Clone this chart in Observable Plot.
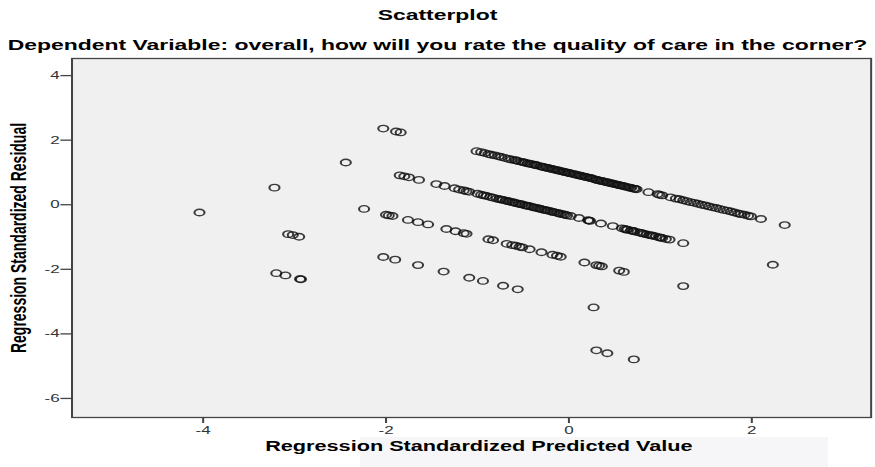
<!DOCTYPE html>
<html>
<head>
<meta charset="utf-8">
<script src="https://cdn.jsdelivr.net/npm/d3@7"></script>
<script src="https://cdn.jsdelivr.net/npm/@observablehq/plot@0.6"></script>
<style>
  html, body { margin: 0; padding: 0; background: #ffffff; width: 875px; height: 467px; overflow: hidden; }
  #wm { position: absolute; left: 360px; top: 437px; width: 468px; height: 30px; background: #f6f6f9; }
  #stretch { position: absolute; left: 0; top: 0; width: 565px; height: 467px;
             transform: scaleX(1.5487); transform-origin: 0 0;
             font-family: "Liberation Sans", Arial, sans-serif; color: #000; }
  .ttl { position: absolute; left: 0; width: 565px; text-align: center; font-weight: bold;
         font-size: 14.8px; line-height: 20px; white-space: nowrap; }
  #t1 { top: 5px; }
  #t2 { top: 35px; }
  #chart { position: absolute; left: 0; top: 57px; }
</style>
</head>
<body>
<div id="wm"></div>
<div id="stretch">
  <div class="ttl" id="t1"></div>
  <div class="ttl" id="t2"></div>
  <div id="chart"></div>
</div>
<script>
const titleText = "Scatterplot";
const subtitleText = "Dependent Variable: overall, how will you rate the quality of care in the corner?";
const xLabel = "Regression Standardized Predicted Value";
const yLabel = "Regression Standardized Residual";
const xTicks = [-4, -2, 0, 2];
const yTicks = [4, 2, 0, -2, -4, -6];

// Band 1 (top line of residuals)
const band1Pred = [-2.03, -1.89, -1.84, -1.01, -0.96, -0.92, -0.88, -0.85, -0.81, -0.77, -0.74, -0.70, -0.66, -0.63, -0.59, -0.55, -0.52, -0.48, -0.45, -0.41, -0.38, -0.35, -0.31, -0.28, -0.25, -0.22, -0.19, -0.16, -0.13, -0.10, -0.07, -0.04, -0.01, 0.02, 0.05, 0.08, 0.11, 0.14, 0.17, 0.20, 0.23, 0.26, 0.29, 0.32, 0.35, 0.38, 0.41, 0.44, 0.47, 0.50, 0.53, 0.56, 0.59, 0.62, 0.65, 0.68, 0.71, 0.74, 0.87, 0.97, 0.99, 1.02, 1.11, 1.17, 1.21, 1.25, 1.29, 1.33, 1.37, 1.41, 1.45, 1.49, 1.53, 1.57, 1.61, 1.65, 1.69, 1.73, 1.77, 1.81, 1.85, 1.88, 1.92, 1.96, 1.99, 2.10, 2.36,
  -0.575, -0.50, -0.43, -0.365, -0.295, -0.235, -0.175, -0.115, -0.055, 0.005, 0.065, 0.125, 0.185, 0.245, 0.305, 0.365, 0.425, 0.485, 0.545, 0.605, 0.665, 0.725];
const band1Resid = [2.36, 2.27, 2.24, 1.66, 1.63, 1.60, 1.57, 1.55, 1.53, 1.50, 1.48, 1.45, 1.42, 1.40, 1.38, 1.35, 1.33, 1.30, 1.28, 1.26, 1.24, 1.22, 1.19, 1.17, 1.15, 1.13, 1.11, 1.09, 1.07, 1.05, 1.03, 1.01, 0.99, 0.97, 0.95, 0.93, 0.91, 0.89, 0.87, 0.85, 0.83, 0.81, 0.78, 0.76, 0.74, 0.72, 0.70, 0.68, 0.66, 0.64, 0.62, 0.60, 0.58, 0.56, 0.54, 0.52, 0.50, 0.48, 0.39, 0.33, 0.31, 0.29, 0.23, 0.19, 0.17, 0.14, 0.11, 0.08, 0.06, 0.03, 0.00, -0.02, -0.05, -0.08, -0.10, -0.13, -0.16, -0.18, -0.21, -0.24, -0.27, -0.29, -0.31, -0.34, -0.36, -0.44, -0.63,
  1.37, 1.32, 1.27, 1.23, 1.18, 1.14, 1.10, 1.06, 1.02, 0.98, 0.94, 0.90, 0.86, 0.82, 0.77, 0.73, 0.69, 0.65, 0.61, 0.57, 0.53, 0.49];

// Band 2
const band2Pred = [-2.44, -1.85, -1.80, -1.75, -1.64, -1.45, -1.36, -1.25, -1.20, -1.15, -1.12, -1.09, -1.00, -0.96, -0.93, -0.90, -0.86, -0.83, -0.79, -0.76, -0.72, -0.69, -0.65, -0.62, -0.58, -0.55, -0.51, -0.48, -0.44, -0.41, -0.37, -0.34, -0.30, -0.27, -0.23, -0.20, -0.16, -0.13, -0.09, -0.06, -0.02, 0.02, 0.11, 0.21, 0.23, 0.35, 0.48, 0.58, 0.61, 0.64, 0.68, 0.71, 0.75, 0.78, 0.82, 0.85, 0.88, 0.92, 0.95, 0.99, 1.02, 1.06, 1.10, 1.25, 2.23,
  -0.74, -0.67, -0.60, -0.53, -0.46, -0.39, -0.32, -0.25, -0.18, -0.11, -0.04, 0.22, 0.63, 0.70, 0.80, 0.90, 1.00];
const band2Resid = [1.31, 0.91, 0.88, 0.85, 0.77, 0.64, 0.58, 0.51, 0.47, 0.44, 0.42, 0.40, 0.34, 0.31, 0.29, 0.27, 0.24, 0.22, 0.19, 0.17, 0.15, 0.13, 0.10, 0.08, 0.05, 0.03, 0.01, -0.02, -0.04, -0.06, -0.09, -0.11, -0.14, -0.16, -0.18, -0.20, -0.23, -0.25, -0.28, -0.30, -0.33, -0.35, -0.41, -0.48, -0.50, -0.58, -0.66, -0.73, -0.75, -0.77, -0.80, -0.82, -0.85, -0.87, -0.90, -0.92, -0.94, -0.96, -0.98, -1.01, -1.03, -1.06, -1.08, -1.19, -1.86,
  0.16, 0.11, 0.07, 0.02, -0.03, -0.08, -0.12, -0.17, -0.22, -0.27, -0.31, -0.49, -0.77, -0.81, -0.88, -0.95, -1.02];

// Band 3
const band3Pred = [-3.22, -2.24, -2.00, -1.97, -1.93, -1.76, -1.65, -1.54, -1.34, -1.24, -1.15, -1.12, -0.88, -0.83, -0.68, -0.62, -0.58, -0.54, -0.51, -0.43, -0.30, -0.18, -0.13, -0.09, 0.17, 0.30, 0.33, 0.36, 0.55, 0.60, 1.25];
const band3Resid = [0.53, -0.13, -0.31, -0.33, -0.35, -0.47, -0.54, -0.61, -0.75, -0.82, -0.88, -0.90, -1.07, -1.10, -1.21, -1.25, -1.27, -1.30, -1.32, -1.38, -1.47, -1.55, -1.58, -1.61, -1.79, -1.87, -1.89, -1.91, -2.04, -2.08, -2.52];

// Band 4
const band4Pred = [-4.04, -3.07, -3.02, -2.95, -2.03, -1.90, -1.65, -1.37, -1.09, -0.94, -0.72, -0.56, 0.27];
const band4Resid = [-0.24, -0.91, -0.94, -0.99, -1.62, -1.70, -1.87, -2.07, -2.26, -2.36, -2.51, -2.62, -3.18];

// Band 5 (lowest)
const band5Pred = [-3.20, -3.10, -2.94, -2.93, 0.30, 0.42, 0.71];
const band5Resid = [-2.12, -2.19, -2.30, -2.31, -4.51, -4.60, -4.79];

const bands = [
  [band1Pred, band1Resid], [band2Pred, band2Resid], [band3Pred, band3Resid],
  [band4Pred, band4Resid], [band5Pred, band5Resid]
];
const points = bands.flatMap(([xs, ys]) => xs.map((x, i) => ({x, y: ys[i]})));

document.getElementById("t1").textContent = titleText;
document.getElementById("t2").textContent = subtitleText;

const chart = Plot.plot({
  width: 565,
  height: 410,
  marginTop: 1,
  marginBottom: 50,
  marginLeft: 46,
  marginRight: 3,
  style: {fontFamily: '"Liberation Sans", Arial, sans-serif', fontSize: "11px", color: "#333", background: "transparent", overflow: "visible"},
  x: {domain: [-5.434, 3.305]},
  y: {domain: [-6.59, 4.53]},
  marks: [
    Plot.frame({fill: "#f0f0f0", stroke: "none"}),
    Plot.dot(points, {x: "x", y: "y", r: 3.25, stroke: "#111", strokeOpacity: 0.82, strokeWidth: 1.35, fill: "none"}),
    Plot.frame({stroke: "#444", strokeWidth: 1.3}),
    Plot.axisX({ticks: xTicks, tickSize: 6, tickPadding: 3, tickFormat: d => String(d), label: null, fontSize: 11, stroke: "#444", strokeWidth: 1.3}),
    Plot.axisY({ticks: yTicks, tickSize: 7, tickFormat: () => "", label: null, stroke: "#444", strokeWidth: 1.3}),
    Plot.text(yTicks, {y: d => d, frameAnchor: "left", dx: -8, text: d => String(d), textAnchor: "end", fontSize: 11, fill: "#333"}),
    Plot.text([xLabel], {frameAnchor: "bottom", dy: 29, dx: 4.7, text: d => d, fontWeight: "bold", fontSize: 14, fill: "#000", lineAnchor: "middle"}),
    Plot.text([yLabel], {frameAnchor: "left", dx: -34.2, rotate: -90, text: d => d, textAnchor: "middle", fontWeight: "bold", fontSize: 14, fill: "#000", lineAnchor: "middle"})
  ]
});
document.getElementById("chart").appendChild(chart);
</script>
</body>
</html>
